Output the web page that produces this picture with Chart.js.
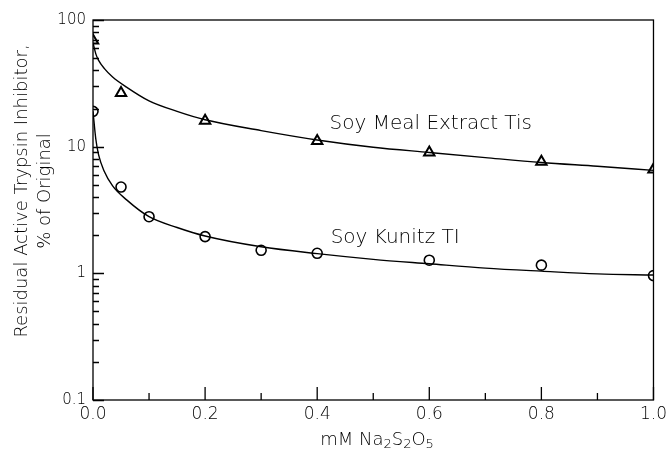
<!DOCTYPE html>
<html>
<head>
<meta charset="utf-8">
<script src="https://cdn.jsdelivr.net/npm/chart.js@4/dist/chart.umd.min.js"></script>
<style>
  html, body { margin: 0; padding: 0; background: #fff; }
  #wrap { width: 671px; height: 454px; }
</style>
</head>
<body>
<div id="wrap"><canvas id="c"></canvas></div>
<script>
// measured points
const xMeal = [0, 0.05, 0.2, 0.4, 0.6, 0.8, 1.0];
const yMeal = [69, 26.5, 16, 11.1, 9.0, 7.6, 6.6];
const xKunitz = [0, 0.05, 0.1, 0.2, 0.3, 0.4, 0.6, 0.8, 1.0];
const yKunitz = [19, 4.8, 2.8, 1.95, 1.52, 1.44, 1.27, 1.16, 0.96];

// fitted curves
const xCurve = [0, 0.005, 0.01, 0.02, 0.035, 0.06, 0.1, 0.15, 0.2, 0.3, 0.4, 0.5, 0.6, 0.7, 0.8, 0.9, 1.0];
const yMealFit = [66, 54, 48, 41.5, 35.5, 29.5, 23, 19, 16.3, 13.4, 11.3, 9.9, 9.0, 8.2, 7.5, 7.0, 6.5];
const yKunitzFit = [19, 11.5, 8.6, 6.4, 4.9, 3.8, 2.8, 2.3, 1.97, 1.62, 1.43, 1.29, 1.19, 1.1, 1.04, 0.99, 0.97];

const yTickLabels = [0.1, 1, 10, 100];
const xTickLabels = [0, 0.2, 0.4, 0.6, 0.8, 1.0];

const labelMeal = "Soy Meal Extract Tis";
const labelKunitz = "Soy Kunitz TI";
const yTitle = ["Residual Active Trypsin Inhibitor,", "% of Original"];

const FONT = "'DejaVu Sans', sans-serif";
const pts = (xs, ys) => xs.map((x, i) => ({ x, y: ys[i] }));

const frame = {
    id: "frame",
    afterDraw(chart) {
        const { ctx, chartArea: a, scales } = chart;
        const xs = scales.x, ys = scales.y;
        ctx.save();
        ctx.strokeStyle = "#000";
        ctx.lineWidth = 1.3;
        ctx.strokeRect(a.left, a.top, a.right - a.left, a.bottom - a.top);
        ctx.beginPath();
        xs.ticks.forEach(t => {
            const px = xs.getPixelForValue(t.value);
            const major = xTickLabels.some(v => Math.abs(v - t.value) < 1e-6);
            ctx.moveTo(px, a.bottom);
            ctx.lineTo(px, a.bottom - (major ? 13 : 7));
        });
        ctx.stroke();

        // log ticks: each decade plus 2..9 inside it
        ctx.beginPath();
        ctx.lineWidth = 1.4;
        for (let i = 0; i < yTickLabels.length; i++) {
            const d = yTickLabels[i];
            const py = Math.round(ys.getPixelForValue(d)) + 0.5;
            ctx.moveTo(a.left, py);
            ctx.lineTo(a.left + 11, py);
            if (i === yTickLabels.length - 1) break;
            for (let k = 2; k <= 9; k++) {
                const pk = Math.round(ys.getPixelForValue(k * d)) + 0.5;
                ctx.moveTo(a.left, pk);
                ctx.lineTo(a.left + 6, pk);
            }
        }
        ctx.stroke();

        ctx.fillStyle = "#000";
        ctx.font = "300 20px " + FONT;
        ctx.textBaseline = "middle";
        ctx.textAlign = "left";
        ctx.fillText(labelMeal, xs.getPixelForValue(0.422), ys.getPixelForValue(15.2));
        ctx.fillText(labelKunitz, xs.getPixelForValue(0.424), ys.getPixelForValue(1.9));

        // y title, two rotated lines
        ctx.save();
        ctx.font = "300 18px " + FONT;
        ctx.translate(22, 191);
        ctx.rotate(-Math.PI / 2);
        ctx.textAlign = "center";
        ctx.fillText(yTitle[0], 0, 0);
        ctx.fillText(yTitle[1], 0, 23);
        ctx.restore();

        // x title with subscripts
        const parts = [["mM Na", 0], ["2", 1], ["S", 0], ["2", 1], ["O", 0], ["5", 1]];
        let w = 0;
        parts.forEach(p => {
            ctx.font = (p[1] ? "300 13px " : "300 18px ") + FONT;
            w += ctx.measureText(p[0]).width;
        });
        let cx = 377 - w / 2;
        parts.forEach(p => {
            ctx.font = (p[1] ? "300 13px " : "300 18px ") + FONT;
            ctx.fillText(p[0], cx, p[1] ? 445 : 440);
            cx += ctx.measureText(p[0]).width;
        });
        ctx.restore();
    },
};

new Chart(document.getElementById("c"), {
    type: "scatter",
    data: {
        datasets: [
            { data: pts(xCurve, yMealFit), showLine: true, pointRadius: 0, borderColor: "#000", borderWidth: 1.4, cubicInterpolationMode: "monotone" },
            { data: pts(xCurve, yKunitzFit), showLine: true, pointRadius: 0, borderColor: "#000", borderWidth: 1.4, cubicInterpolationMode: "monotone" },
            { data: pts(xMeal, yMeal), pointStyle: "triangle", pointRadius: 6, borderColor: "#000", borderWidth: 2, backgroundColor: "rgba(0,0,0,0)" },
            { data: pts(xKunitz, yKunitz), pointStyle: "circle", pointRadius: 5, borderColor: "#000", borderWidth: 1.6, backgroundColor: "rgba(0,0,0,0)" },
        ],
    },
    options: {
        responsive: true,
        maintainAspectRatio: false,
        animation: false,
        layout: { padding: { top: 20, right: 12, left: 0, bottom: 0 } },
        plugins: { legend: { display: false }, tooltip: { enabled: false } },
        scales: {
            x: {
                type: "linear", min: 0, max: 1,
                grid: { display: false, drawTicks: false },
                border: { display: false },
                ticks: {
                    stepSize: 0.1, padding: 4, color: "#000", maxRotation: 0, autoSkip: false,
                    font: { family: FONT, size: 17, weight: 300 },
                    callback: v => xTickLabels.some(t => Math.abs(t - v) < 1e-6) ? v.toFixed(1) : "",
                },
                afterFit: s => { s.height = 54; },
            },
            y: {
                type: "logarithmic", min: 0.1, max: 100,
                grid: { display: false, drawTicks: false },
                border: { display: false },
                ticks: {
                    padding: 7, color: "#000", autoSkip: false,
                    font: { family: FONT, size: 15, weight: 300 },
                    callback: v => yTickLabels.some(t => Math.abs(t - v) < 1e-9) ? String(v) : "",
                },
                afterFit: s => { s.width = 93; },
            },
        },
    },
    plugins: [frame],
});
</script>
</body>
</html>
